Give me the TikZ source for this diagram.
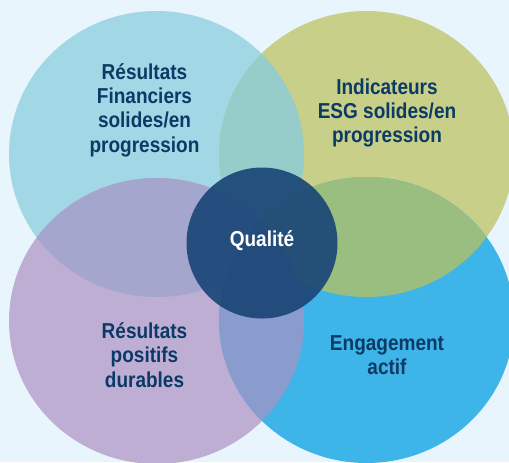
\documentclass[tikz,border=0pt]{standalone}
\usepackage{fontspec}
\setmainfont{Liberation Sans}[FakeStretch=0.88]
\definecolor{bgblue}{HTML}{E9F5FD}
\definecolor{fincol}{HTML}{A2D8E6}
\definecolor{esgcol}{HTML}{C8CF88}
\definecolor{durcol}{HTML}{BEAED4}
\definecolor{engcol}{HTML}{3DB5E8}
\definecolor{finesg}{HTML}{96CCC9}
\definecolor{esgeng}{HTML}{99BE80}
\definecolor{dureng}{HTML}{8A9BCE}
\definecolor{findur}{HTML}{A5A6CD}
\definecolor{qualcol}{HTML}{1B4677}
\definecolor{txtcol}{HTML}{0C3A66}
\tikzset{
  blob/.style={x radius=147.5, y radius=143},
  label/.style={text=txtcol, align=center, font=\bfseries\fontsize{16.2}{18.2}\selectfont}
}
\begin{document}
\begin{tikzpicture}[x=0.75pt, y=-0.75pt]
\fill[bgblue] (0,0) rectangle (509,462);
\useasboundingbox (0,0) rectangle (509,462);
\coordinate (fin) at (156.5,154);
\coordinate (esg) at (366.5,154);
\coordinate (dur) at (156.5,321);
\coordinate (eng) at (366.5,320);
\coordinate (qual) at (262,243);
% the four circles
\fill[fincol] (fin) ellipse [blob];
\fill[esgcol] (esg) ellipse [blob];
\fill[durcol] (dur) ellipse [blob];
\fill[engcol] (eng) ellipse [blob];
% overlaps
\begin{scope}
  \clip (fin) ellipse [blob];
  \fill[finesg] (esg) ellipse [blob];
  \fill[findur] (dur) ellipse [blob];
\end{scope}
\begin{scope}
  \clip (eng) ellipse [blob];
  \fill[esgeng] (esg) ellipse [blob];
  \fill[dureng] (dur) ellipse [blob];
\end{scope}
% centre
\fill[qualcol, fill opacity=0.92] (qual) circle [radius=75.5];

\node[label] (finlbl) at (144.5,110) {Résultats\\Financiers\\solides/en\\progression};
\node[label] (esglbl) at (387,113) {Indicateurs\\ESG solides/en\\progression};
\node[label] (durlbl) at (144.5,355) {Résultats\\positifs\\durables};
\node[label] (englbl) at (387,355) {Engagement\\actif};
\node[label, text=white] (quallbl) at (262,241) {Qualité};
\end{tikzpicture}
\end{document}
